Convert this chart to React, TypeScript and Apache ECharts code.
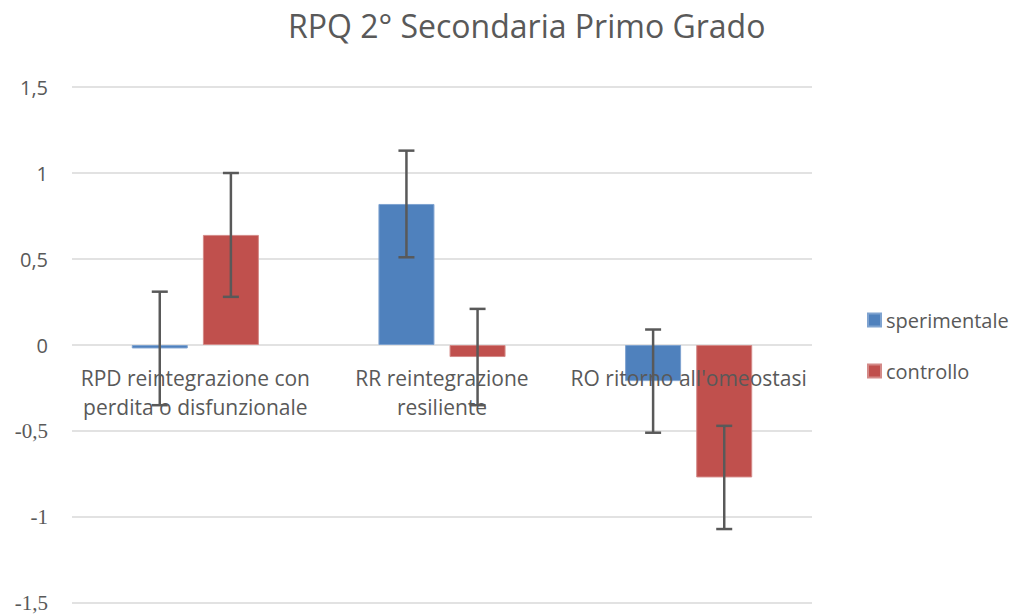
import React, { useEffect, useRef } from "react";
import * as echarts from "echarts";

const title = "RPQ 2° Secondaria Primo Grado";
const categories = [
  "RPD reintegrazione con\nperdita o disfunzionale",
  "RR reintegrazione\nresiliente",
  "RO ritorno all'omeostasi",
];
const seriesNames = ["sperimentale", "controllo"];
const sperimentale = [-0.02, 0.82, -0.21];
const controllo = [0.64, -0.07, -0.77];
const errSperimentale = [0.33, 0.31, 0.3];
const errControllo = [0.36, 0.28, 0.3];
const yTicks = { min: -1.5, max: 1.5, interval: 0.5 };

const FONT = "'Open Sans', 'Noto Sans', sans-serif";
const SERIF = "'Liberation Serif', 'DejaVu Serif', serif";
const TEXT = "#595959";
const BLUE = "#4F81BD";
const RED = "#C0504D";
const BAR_W = 56;
const BAR_GAP = 0.27;

function errorSeries(name: string, values: number[], errs: number[], offset: number) {
  return {
    type: "custom",
    name: name + " err",
    z: 10,
    data: values.map((v, i) => [i, v, errs[i]]),
    encode: { x: 0, y: 1 },
    renderItem: (_params: any, api: any) => {
      const x = api.value(0);
      const v = api.value(1);
      const e = api.value(2);
      const hi = api.coord([x, v + e]);
      const lo = api.coord([x, v - e]);
      const cx = hi[0] + offset;
      const cap = 8;
      const style = { stroke: "#595959", lineWidth: 2.5 };
      return {
        type: "group",
        children: [
          { type: "line", shape: { x1: cx, y1: hi[1], x2: cx, y2: lo[1] }, style },
          { type: "line", shape: { x1: cx - cap, y1: hi[1], x2: cx + cap, y2: hi[1] }, style },
          { type: "line", shape: { x1: cx - cap, y1: lo[1], x2: cx + cap, y2: lo[1] }, style },
        ],
      };
    },
  };
}

export default function App() {
  const ref = useRef<HTMLDivElement>(null);
  useEffect(() => {
    if (!ref.current) return;
    const chart = echarts.init(ref.current, null, { renderer: "svg" });
    const off = (BAR_W * (1 + BAR_GAP)) / 2;
    chart.setOption({
      animation: false,
      backgroundColor: "#ffffff",
      textStyle: { fontFamily: FONT, color: TEXT },
      title: {
        text: title,
        left: 283,
        top: 4,
        textStyle: { fontFamily: FONT, fontSize: 32, fontWeight: "normal", color: TEXT },
      },
      legend: {
        data: seriesNames,
        orient: "vertical",
        left: 862,
        top: 305,
        itemWidth: 13,
        itemHeight: 13,
        itemGap: 31,
        icon: "rect",
        textStyle: { fontFamily: FONT, fontSize: 20, color: TEXT },
      },
      grid: {
        left: 72,
        right: 197,
        top: 87,
        bottom: 11,
        containLabel: false,
        outerBoundsMode: "none",
      },
      xAxis: {
        type: "category",
        data: categories,
        axisLine: { show: false },
        axisTick: { show: false },
        axisLabel: { show: false },
      },
      yAxis: {
        type: "value",
        min: yTicks.min,
        max: yTicks.max,
        interval: yTicks.interval,
        axisLine: { show: false },
        axisTick: { show: false },
        splitLine: { lineStyle: { color: "#d9d9d9", width: 1.5 } },
        axisLabel: {
          margin: 24,
          color: TEXT,
          formatter: (v: number) => {
            const s = String(v).replace(".", ",");
            return v < 0 ? `{neg|${s}}` : `{pos|${s}}`;
          },
          rich: {
            pos: { fontFamily: FONT, fontSize: 20, color: TEXT },
            neg: { fontFamily: SERIF, fontSize: 21, color: TEXT },
          },
        },
      },
      series: [
        {
          type: "bar",
          name: seriesNames[0],
          data: sperimentale,
          barWidth: BAR_W,
          barGap: BAR_GAP * 100 + "%",
          itemStyle: { color: BLUE, borderColor: "#7fa3d0", borderWidth: 1 },
          z: 2,
        },
        {
          type: "bar",
          name: seriesNames[1],
          data: controllo,
          barWidth: BAR_W,
          barGap: BAR_GAP * 100 + "%",
          itemStyle: { color: RED, borderColor: "#d48a88", borderWidth: 1 },
          z: 2,
        },
        {
          type: "custom",
          name: "category labels",
          z: 5,
          silent: true,
          data: categories.map((_c, i) => [i, 0]),
          encode: { x: 0, y: 1 },
          renderItem: (params: any, api: any) => {
            const p = api.coord([api.value(0), 0]);
            return {
              type: "text",
              x: p[0],
              y: p[1] + 18,
              style: {
                text: categories[params.dataIndex],
                textAlign: "center",
                textVerticalAlign: "top",
                fontFamily: FONT,
                fontSize: 21,
                lineHeight: 29,
                fill: TEXT,
              },
            };
          },
        },
        errorSeries(seriesNames[0], sperimentale, errSperimentale, -off),
        errorSeries(seriesNames[1], controllo, errControllo, off),
      ],
    });
    return () => chart.dispose();
  }, []);
  return (
    <div
      ref={ref}
      style={{ position: "fixed", left: 0, top: 0, width: 1009, height: 614 }}
    />
  );
}
